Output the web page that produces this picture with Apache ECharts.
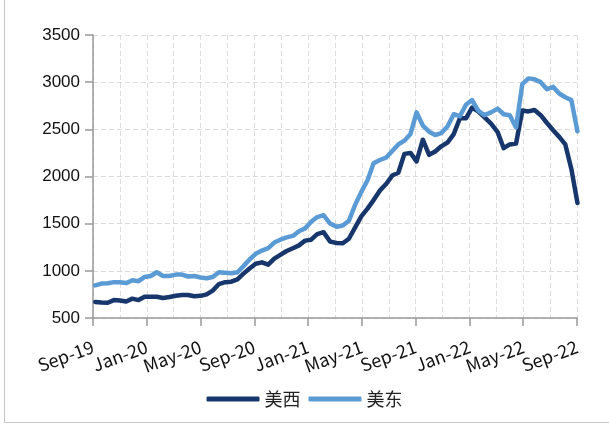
<!DOCTYPE html>
<html>
<head>
<meta charset="utf-8">
<script src="https://cdn.jsdelivr.net/npm/echarts@6/dist/echarts.min.js"></script>
<style>
html,body{margin:0;padding:0;background:#fff;}
#chart{width:609px;height:427px;}
</style>
</head>
<body>
<div id="chart"></div>
<script>
// Biweekly observations starting from this date
const startDate = '2019-09-06';
const stepDays = 14;

const seriesNames = ['美西', '美东'];

const westValues = [
  670, 665, 662, 690, 685, 675, 705, 690, 725, 725,
  726, 712, 722, 735, 744, 744, 730, 735, 750, 790,
  860, 880, 885, 910, 970, 1025, 1075, 1090, 1065, 1130,
  1170, 1210, 1240, 1270, 1320, 1330, 1390, 1410, 1310, 1295,
  1292, 1340, 1460, 1580, 1660, 1750, 1850, 1920, 2010, 2040,
  2240, 2250, 2160, 2390, 2230, 2265, 2320, 2360, 2450, 2617,
  2617, 2730, 2690, 2630, 2560, 2470, 2300, 2340, 2350, 2700,
  2690, 2705, 2650, 2567, 2490, 2420, 2340, 2080, 1720
];

const eastValues = [
  845, 865, 868, 880, 880, 870, 900, 890, 935, 945,
  985, 945, 945, 960, 960, 940, 945, 930, 921, 935,
  985, 980, 974, 985, 1050, 1120, 1180, 1215, 1240, 1300,
  1330, 1355, 1370, 1420, 1450, 1520, 1570, 1590, 1500, 1468,
  1480, 1530, 1700, 1840, 1960, 2140, 2175, 2200, 2270, 2340,
  2380, 2450, 2680, 2540, 2475, 2440, 2460, 2530, 2660, 2640,
  2760, 2810, 2700, 2650, 2680, 2720, 2660, 2650, 2520, 2980,
  3040, 3030, 3000, 2925, 2950, 2880, 2840, 2810, 2480
];

const xTickLabels = ['Sep-19','Jan-20','May-20','Sep-20','Jan-21','May-21','Sep-21','Jan-22','May-22','Sep-22'];
const yTicks = [500, 1000, 1500, 2000, 2500, 3000, 3500];

// convert a date into months elapsed since 2019-09-01
function monthsSinceStart(dt) {
  const y = dt.getUTCFullYear(), m = dt.getUTCMonth() + 1, d = dt.getUTCDate();
  const dim = new Date(Date.UTC(y, m, 0)).getUTCDate();
  return (y - 2019) * 12 + (m - 9) + (d - 1) / dim;
}
const base = new Date(startDate + 'T00:00:00Z');
function xAt(i) {
  const dt = new Date(base.getTime() + i * stepDays * 86400000);
  return monthsSinceStart(dt);
}
const westData = westValues.map((v, i) => [xAt(i), v]);
const eastData = eastValues.map((v, i) => [xAt(i), v]);

const lastIdx = xTickLabels.length - 1;
const labelStyle = {
  rotate: 20,
  margin: 28,
  hideOverlap: false,
  fontFamily: 'Noto Sans CJK SC',
  fontSize: 18,
  color: '#111'
};

const chart = echarts.init(document.getElementById('chart'), null, {renderer: 'canvas'});
const gridLine = {show: true, lineStyle: {color: '#dcdcdc', type: [5, 3], width: 1}};
chart.setOption({
  animation: false,
  backgroundColor: '#fff',
  graphic: [
    {type: 'line', shape: {x1: 4.5, y1: 0, x2: 4.5, y2: 422.5}, style: {stroke: '#c8c8c8', lineWidth: 1}},
    {type: 'line', shape: {x1: 4.5, y1: 422.5, x2: 609, y2: 422.5}, style: {stroke: '#c8c8c8', lineWidth: 1}}
  ],
  grid: {left: 93, right: 32, top: 35, bottom: 109, containLabel: false},
  legend: {
    data: seriesNames,
    left: 'center',
    top: 385,
    icon: 'roundRect',
    itemWidth: 53,
    itemHeight: 5,
    itemGap: 8,
    textStyle: {fontFamily: 'Noto Sans CJK SC', fontSize: 18, color: '#222'}
  },
  xAxis: [
    {
      // main axis: line, ticks, grid and the inner labels
      type: 'value',
      position: 'bottom',
      min: 0,
      max: 36,
      interval: 4,
      axisLine: {show: true, lineStyle: {color: '#999', width: 1.5}},
      axisTick: {show: true, length: 8, lineStyle: {color: '#999', width: 1.5}},
      minorTick: {show: false, splitNumber: 2},
      splitLine: gridLine,
      minorSplitLine: gridLine,
      axisLabel: Object.assign({}, labelStyle, {
        formatter: v => {
          const k = Math.round(v / 4);
          return (k > 0 && k < lastIdx) ? xTickLabels[k] : '';
        }
      })
    },
    {
      // companion axis carrying the first and last labels
      type: 'value',
      position: 'bottom',
      min: 0,
      max: 36,
      interval: 4,
      axisLine: {show: false},
      axisTick: {show: false},
      splitLine: {show: false},
      axisLabel: Object.assign({}, labelStyle, {
        showMinLabel: true,
        showMaxLabel: true,
        formatter: v => {
          const k = Math.round(v / 4);
          return (k === 0 || k === lastIdx) ? xTickLabels[k] : '';
        }
      })
    }
  ],
  yAxis: {
    type: 'value',
    min: yTicks[0],
    max: yTicks[yTicks.length - 1],
    interval: 500,
    axisLine: {show: true, lineStyle: {color: '#999', width: 1.5}},
    axisTick: {show: true, length: 8, lineStyle: {color: '#999', width: 1.5}},
    splitLine: gridLine,
    axisLabel: {margin: 13, fontFamily: 'Liberation Sans', fontSize: 17, color: '#111', formatter: v => String(v)}
  },
  series: [
    {
      name: seriesNames[0], type: 'line', xAxisIndex: 0, data: westData, showSymbol: false, symbol: 'none',
      lineStyle: {color: '#17366b', width: 4.5, cap: 'round', join: 'round'},
      itemStyle: {color: '#17366b'}
    },
    {
      name: seriesNames[1], type: 'line', xAxisIndex: 0, data: eastData, showSymbol: false, symbol: 'none',
      lineStyle: {color: '#5b9bd5', width: 4.5, cap: 'round', join: 'round'},
      itemStyle: {color: '#5b9bd5'}
    }
  ]
});
</script>
</body>
</html>
